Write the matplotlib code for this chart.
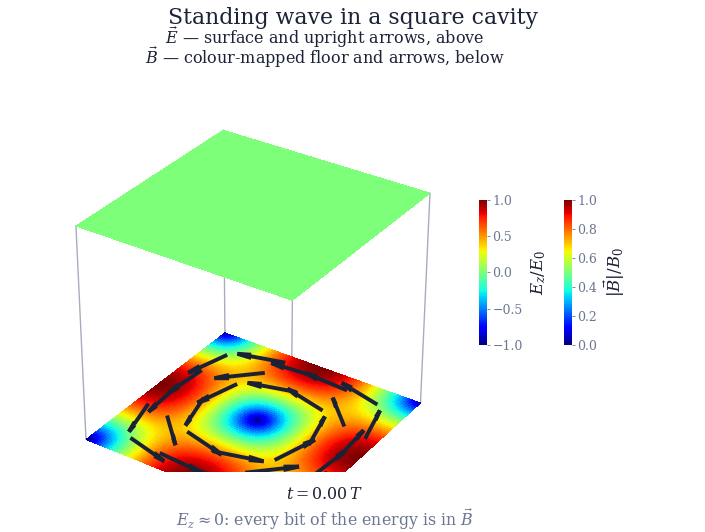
import numpy as np
import matplotlib
matplotlib.use("Agg")
import matplotlib.pyplot as plt
from matplotlib import cm, colors

plt.rcParams['font.family'] = 'DejaVu Serif'
plt.rcParams['mathtext.fontset'] = 'dejavuserif'

# TM mode of the square cavity and the snapshot shown
mode_m, mode_n = 1, 1
t_over_T = 0.00
floor_z = -2.0
n_grid = 81          # floor / surface resolution
arrow_grid = 6       # arrows sampled at cell centres of a 6x6 grid
arrow_min = 0.4      # |B| below this gets no arrow
arrow_len = 0.22     # all arrows drawn with the same length

title_color = '#1c2237'
muted_color = '#6b7791'
arrow_color = '#1b2236'
wall_color = '#a7adbd'


def fields(x, y, t):
    """Ez and B (x, y components) for the TM_mn standing wave, normalised."""
    kx, ky = mode_m * np.pi, mode_n * np.pi
    ez = np.sin(kx * x) * np.sin(ky * y) * np.cos(2 * np.pi * t + np.pi / 2)
    bx = ky * np.sin(kx * x) * np.cos(ky * y) * np.cos(2 * np.pi * t)
    by = -kx * np.cos(kx * x) * np.sin(ky * y) * np.cos(2 * np.pi * t)
    return ez, bx, by


xs = np.linspace(0, 1, n_grid)
X, Y = np.meshgrid(xs, xs)
EZ, BX, BY = fields(X, Y, t_over_T)
B0 = np.hypot(BX, BY).max()
BMAG = np.hypot(BX, BY) / B0

norm_e = colors.Normalize(-1, 1)
norm_b = colors.Normalize(0, 1)

fig = plt.figure(figsize=(7.05, 5.32), dpi=100)
ax = fig.add_axes([0.068, 0.1128, 0.573, 0.7594], projection='3d')
ax.set_proj_type('persp', focal_length=1)
ax.computed_zorder = False

# cavity corner posts
for cx, cy in [(0, 0), (1, 0), (1, 1), (0, 1)]:
    ax.plot([cx, cx], [cy, cy], [floor_z, 0], color=wall_color, lw=1, zorder=1)

# floor: |B| colour map
ax.plot_surface(X, Y, np.full_like(X, floor_z), facecolors=cm.jet(norm_b(BMAG)),
                rstride=1, cstride=1, shade=False, linewidth=0,
                antialiased=False, zorder=2)

# B arrows on the floor
xa = (np.arange(arrow_grid) + 0.5) / arrow_grid
XA, YA = np.meshgrid(xa, xa)
_, BXA, BYA = fields(XA, YA, t_over_T)
mag = np.hypot(BXA, BYA)
keep = mag / B0 >= arrow_min
ax.quiver(XA[keep], YA[keep], np.full(keep.sum(), floor_z),
          BXA[keep] / mag[keep] * arrow_len, BYA[keep] / mag[keep] * arrow_len,
          np.zeros(keep.sum()),
          pivot='middle', arrow_length_ratio=0.3, color=arrow_color,
          linewidth=2.8, zorder=3)

# Ez surface
ax.plot_surface(X, Y, EZ, facecolors=cm.jet(norm_e(EZ)), rstride=2, cstride=2,
                shade=False, linewidth=0, antialiased=False, zorder=4)

ax.set_xlim(0, 1)
ax.set_ylim(0, 1)
ax.set_zlim(floor_z, 1)
ax.set_box_aspect((1, 1, 1.5), zoom=1.245)
ax.view_init(elev=30, azim=-56)
ax.set_axis_off()

# colour bars
cax1 = fig.add_axes([0.679, 0.3515, 0.0113, 0.2726])
cb1 = fig.colorbar(cm.ScalarMappable(norm=norm_e, cmap='jet'), cax=cax1)
cb1.set_ticks([-1, -0.5, 0, 0.5, 1])
cb1.set_label(r'$E_z/E_0$', fontsize=12, color=title_color, labelpad=5)
cax2 = fig.add_axes([0.800, 0.3515, 0.0113, 0.2726])
cb2 = fig.colorbar(cm.ScalarMappable(norm=norm_b, cmap='jet'), cax=cax2)
cb2.set_ticks([0, 0.2, 0.4, 0.6, 0.8, 1.0])
cb2.set_label(r'$|\vec{B}|/B_0$', fontsize=12, color=title_color, labelpad=3)
for cb in (cb1, cb2):
    cb.outline.set_visible(False)
    cb.ax.tick_params(labelsize=9, colors=muted_color, length=2, width=0.6, pad=2)

fig.text(0.5, 0.987, 'Standing wave in a square cavity', ha='center', va='top',
         fontsize=15.8, color=title_color)
fig.text(0.461, 0.930, r'$\vec{E}$ — surface and upright arrows, above',
         ha='center', va='center', fontsize=11.5, color=title_color)
fig.text(0.461, 0.893, r'$\vec{B}$ — colour-mapped floor and arrows, below',
         ha='center', va='center', fontsize=11.5, color=title_color)
fig.text(0.461, 0.071, r'$t = %.2f\,T$' % t_over_T, ha='center', va='center',
         fontsize=11.4, color=title_color)
fig.text(0.461, 0.024, r'$E_z \approx 0$: every bit of the energy is in $\vec{B}$',
         ha='center', va='center', fontsize=11.4, color=muted_color)

fig.savefig('out.png', dpi=100)
